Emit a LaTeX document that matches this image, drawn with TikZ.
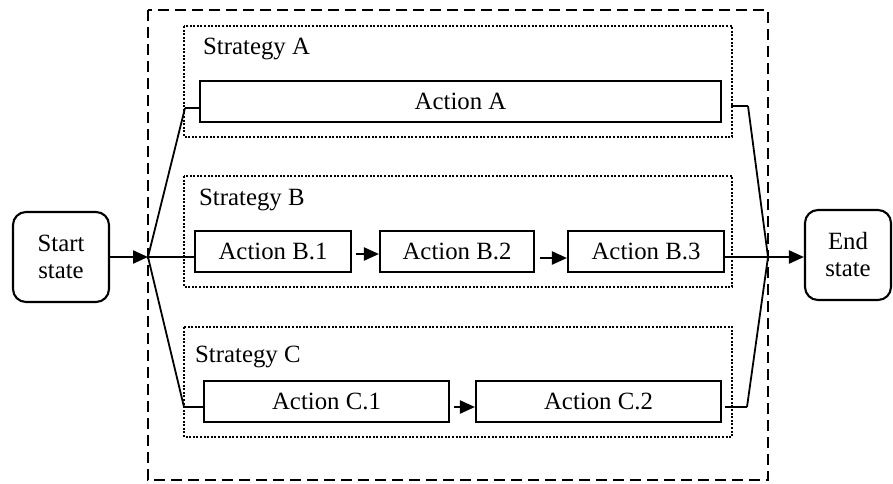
\documentclass[tikz,border=0pt]{standalone}
\usepackage{fontspec}
\setmainfont{Liberation Serif}
\usetikzlibrary{arrows.meta}
\begin{document}
\begin{tikzpicture}[x=1pt,y=-1pt,
  font=\fontsize{24.8}{27}\selectfont,
  actbox/.style={draw,line width=2.1pt,rectangle,inner sep=0pt,minimum height=41pt},
  statebox/.style={draw,line width=2.1pt,rounded corners=13pt,inner sep=0pt,align=center},
  stratbox/.style={draw,line width=2.3pt,dash pattern=on 2pt off 1.6pt},
  outerbox/.style={draw,line width=2.2pt,dash pattern=on 11pt off 6pt},
  stratlabel/.style={anchor=base west,inner sep=0pt},
  conn/.style={line width=2.4pt},
  branch/.style={line width=1.8pt},
  arr/.style={line width=2.2pt,-{Triangle[length=15pt,width=13pt]}}]
\useasboundingbox (0,0) rectangle (893,483);

% enclosing boundary of the strategies
\draw[outerbox] (148,10) rectangle (768,480);

% strategy frames
\draw[stratbox] (184,26) rectangle (732,137);
\draw[stratbox] (184,176) rectangle (732,287);
\draw[stratbox] (184,327) rectangle (732,437);
\node[stratlabel] (sa) at (203,54) {Strategy A};
\node[stratlabel] (sb) at (199,205) {Strategy B};
\node[stratlabel] (sc) at (195,362) {Strategy C};

% start and end states
\node[statebox,minimum width=96pt,minimum height=90pt] (start) at (61,257) {Start\\state};
\node[statebox,minimum width=86pt,minimum height=90pt] (end) at (848,255) {End\\state};

% actions
\node[actbox,minimum width=521pt] (a1) at (460.5,101.5) {Action A};
\node[actbox,minimum width=156pt] (b1) at (273,251.5) {Action B.1};
\node[actbox,minimum width=154pt] (b2) at (457,251.5) {Action B.2};
\node[actbox,minimum width=156pt] (b3) at (646,251.5) {Action B.3};
\node[actbox,minimum width=245pt] (c1) at (326.5,401.5) {Action C.1};
\node[actbox,minimum width=245pt] (c2) at (598.5,401.5) {Action C.2};

% fork and join points
\coordinate (fork) at (148,257);
\coordinate (join) at (768,257);
\coordinate (aL) at (185,108);
\coordinate (cL) at (184,407);
\coordinate (aR0) at (731,106);
\coordinate (aR) at (748,106);
\coordinate (cR0) at (725,407);
\coordinate (cR) at (747,407);

% fork into the three strategies
\draw[arr] (start.east |- fork) -- (fork);
\draw[conn] (fork) -- (b1.west |- fork);
\draw[branch] (fork) -- (aL);
\draw[conn] (aL) -- (a1.west |- aL);
\draw[branch] (fork) -- (cL);
\draw[conn] (cL) -- (c1.west |- cL);

% sequences inside the strategies
\draw[arr,shorten <=4pt] (b1.east |- 0,254) -- (b2.west |- 0,254);
\draw[arr,shorten <=5pt] (b2.east |- 0,258) -- (b3.west |- 0,258);
\draw[arr,shorten <=4pt] (c1.east |- cL) -- (c2.west |- cL);

% join of the three strategies
\draw[conn] (aR0) -- (aR);
\draw[branch] (aR) -- (join);
\draw[conn] (cR0) -- (cR);
\draw[branch] (cR) -- (join);
\draw[conn] (b3.east |- join) -- (join);
\draw[arr] (join) -- (end.west |- join);
\end{tikzpicture}
\end{document}
